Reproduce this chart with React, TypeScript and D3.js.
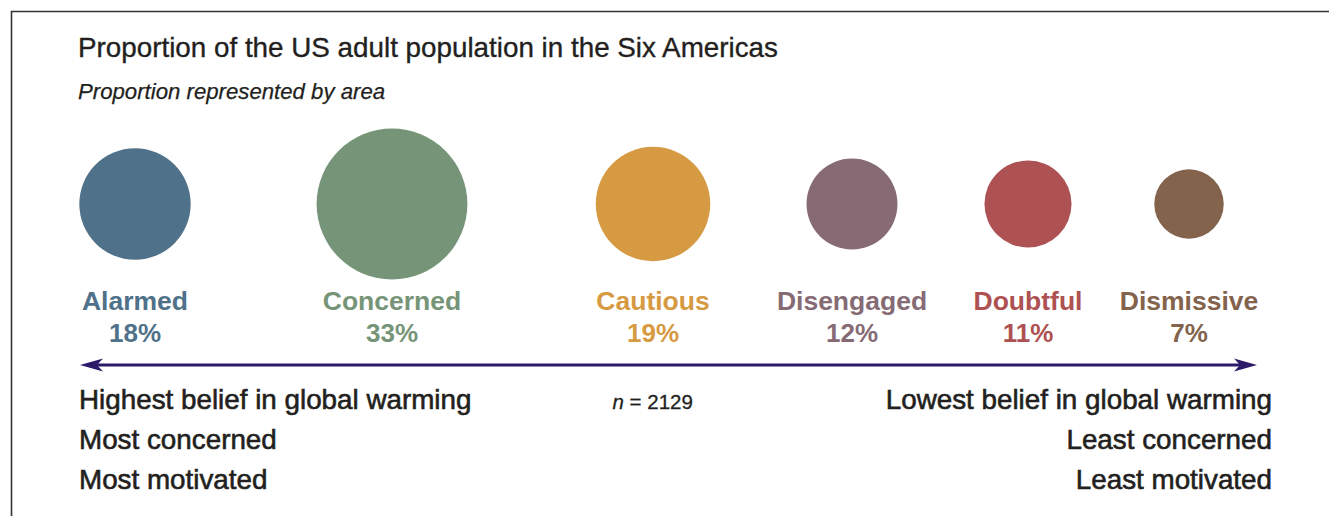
import React from "react";
import * as d3 from "d3";

// ---- data ----
const categories = ["Alarmed", "Concerned", "Cautious", "Disengaged", "Doubtful", "Dismissive"];
const shares = [18, 33, 19, 12, 11, 7];
const leftNotes = ["Highest belief in global warming", "Most concerned", "Most motivated"];
const rightNotes = ["Lowest belief in global warming", "Least concerned", "Least motivated"];
const sampleSize = 2129;
const title = "Proportion of the US adult population in the Six Americas";
const subtitle = "Proportion represented by area";

// ---- layout / style ----
const W = 1329;
const H = 516;
const palette = ["#4f7189", "#769477", "#d69a42", "#866b75", "#ae5152", "#83634c"];
const slotCenters = [135, 392, 653, 852, 1028, 1189];
const FONT = "'Liberation Sans', Arial, Helvetica, sans-serif";
const TEXT = "#231f20";
const ARROW = "#2d1b69";

export default function App() {
  const x = d3.scaleOrdinal<string, number>().domain(categories).range(slotCenters);
  const color = d3.scaleOrdinal<string, string>().domain(categories).range(palette);
  const r = d3.scaleSqrt().domain([0, 33]).range([0, 75.4]);
  const cy = 204;

  const arrowY = 365;
  const ax0 = 80;
  const ax1 = 1257;
  const headL = 23;
  const headW = 6.5;
  const notch = 6;
  const leftHead = d3.path();
  leftHead.moveTo(ax0, arrowY);
  leftHead.lineTo(ax0 + headL, arrowY - headW);
  leftHead.lineTo(ax0 + headL - notch, arrowY);
  leftHead.lineTo(ax0 + headL, arrowY + headW);
  leftHead.closePath();
  const rightHead = d3.path();
  rightHead.moveTo(ax1, arrowY);
  rightHead.lineTo(ax1 - headL, arrowY - headW);
  rightHead.lineTo(ax1 - headL + notch, arrowY);
  rightHead.lineTo(ax1 - headL, arrowY + headW);
  rightHead.closePath();

  const noteY = d3.scaleLinear().domain([0, 1]).range([409, 449]);

  return (
    <svg
      width={W}
      height={H}
      viewBox={`0 0 ${W} ${H}`}
      style={{ position: "absolute", left: 0, top: 0, background: "#fff" }}
      fontFamily={FONT}
    >
      <rect x={0} y={0} width={W} height={H} fill="#fff" />
      <path d={`M11.5,${H + 5} V11.5 H${W + 5}`} fill="none" stroke="#333" strokeWidth={1.6} />

      <text x={78} y={57} fontSize={27.8} fill={TEXT} stroke={TEXT} strokeWidth={0.35}>{title}</text>
      <text x={78} y={99} fontSize={22.2} fontStyle="italic" fill={TEXT} stroke={TEXT} strokeWidth={0.25}>{subtitle}</text>

      {categories.map((c, i) => (
        <g key={c}>
          <circle cx={x(c)} cy={cy} r={r(shares[i])} fill={color(c)} />
          <text x={x(c)} y={310} textAnchor="middle" fontSize={26.5} fontWeight="bold" fill={color(c)}>
            {c}
          </text>
          <text x={x(c)} y={342} textAnchor="middle" fontSize={26} fontWeight="bold" fill={color(c)}>
            {`${shares[i]}%`}
          </text>
        </g>
      ))}

      <line x1={ax0 + 10} x2={ax1 - 10} y1={arrowY} y2={arrowY} stroke={ARROW} strokeWidth={3} />
      <path d={leftHead.toString()} fill={ARROW} />
      <path d={rightHead.toString()} fill={ARROW} />

      {leftNotes.map((t, i) => (
        <text key={t} x={79} y={noteY(i)} fontSize={27.8} fill={TEXT} stroke={TEXT} strokeWidth={0.6}>{t}</text>
      ))}
      {rightNotes.map((t, i) => (
        <text key={t} x={1272} y={noteY(i)} textAnchor="end" fontSize={27.8} fill={TEXT} stroke={TEXT} strokeWidth={0.6}>{t}</text>
      ))}

      <text x={612.5} y={409} fontSize={20.5} fill={TEXT} stroke={TEXT} strokeWidth={0.3}>
        <tspan fontStyle="italic">n</tspan>
        <tspan>{` = ${sampleSize}`}</tspan>
      </text>
    </svg>
  );
}
